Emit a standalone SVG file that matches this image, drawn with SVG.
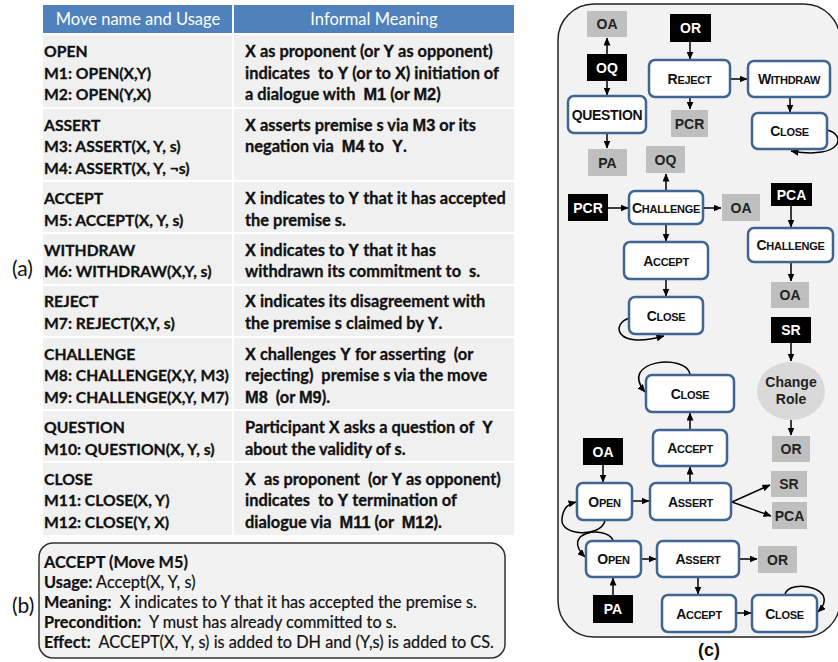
<svg xmlns="http://www.w3.org/2000/svg" width="838" height="662" viewBox="0 0 838 662">
<defs>
<marker id="ah" markerWidth="8" markerHeight="7" refX="7.5" refY="3.5" orient="auto" markerUnits="userSpaceOnUse"><path d="M0,0 L8,3.5 L0,7 z" fill="#000"/></marker>
<style>
.tt{font-family:Lato,"Liberation Sans",sans-serif;font-weight:700;font-size:15.7px;fill:#111;stroke:#111;stroke-width:0.3px}
.r{font-size:16.4px}
.k{font-family:"Liberation Sans",Arial,sans-serif;font-weight:700}
.hd{font-family:Lato,"Liberation Sans",sans-serif;font-size:16.5px;fill:#fff;text-anchor:middle}
.cell{fill:#f0f0f0}
.lab{font-family:Lato,"Liberation Sans",sans-serif;font-size:21px;fill:#111}
.bt{font-family:Lato,"Liberation Sans",sans-serif;font-size:16.3px;fill:#111;stroke:#111;stroke-width:0.2px}
.bb{font-weight:700}
.nd{fill:#fff;stroke:#3f6593;stroke-width:2.5}
.nt{font-family:"Liberation Sans",Arial,sans-serif;font-weight:700;font-size:11px;fill:#111;text-anchor:middle;letter-spacing:-0.3px}
.B{font-size:14px}
.gy{fill:#bfbfbf}
.bk{fill:#000}
.gt{font-family:"Liberation Sans",Arial,sans-serif;font-weight:700;font-size:14px;fill:#222;text-anchor:middle}
.wt{font-family:"Liberation Sans",Arial,sans-serif;font-weight:700;font-size:14px;fill:#fff;text-anchor:middle}
.cn{fill:none;stroke:#000;stroke-width:1.5;marker-end:url(#ah)}
</style>
</defs>
<rect width="838" height="662" fill="#fff"/>

<!-- Table (a) -->
<g id="table">
<rect x="43" y="5" width="189" height="28" fill="#4f81bd"/>
<rect x="234" y="5" width="280" height="28" fill="#4f81bd"/>
<text class="hd" x="138" y="25">Move name and Usage</text>
<text class="hd" x="374" y="25">Informal Meaning</text>

<rect class="cell" x="43" y="35" width="189" height="72"/><rect class="cell" x="234" y="35" width="280" height="72"/>
<rect class="cell" x="43" y="109" width="189" height="71"/><rect class="cell" x="234" y="109" width="280" height="71"/>
<rect class="cell" x="43" y="182" width="189" height="50"/><rect class="cell" x="234" y="182" width="280" height="50"/>
<rect class="cell" x="43" y="234" width="189" height="50"/><rect class="cell" x="234" y="234" width="280" height="50"/>
<rect class="cell" x="43" y="286" width="189" height="50"/><rect class="cell" x="234" y="286" width="280" height="50"/>
<rect class="cell" x="43" y="338" width="189" height="71"/><rect class="cell" x="234" y="338" width="280" height="71"/>
<rect class="cell" x="43" y="411" width="189" height="50"/><rect class="cell" x="234" y="411" width="280" height="50"/>
<rect class="cell" x="43" y="463" width="189" height="72"/><rect class="cell" x="234" y="463" width="280" height="72"/>

<text class="tt" x="44" y="57">OPEN</text>
<text class="tt" x="44" y="78.5">M1: OPEN(X,Y)</text>
<text class="tt" x="44" y="100">M2: OPEN(Y,X)</text>
<text class="tt r" x="245" y="57"><tspan class="k">X</tspan> as proponent (or <tspan class="k">Y</tspan> as opponent)</text>
<text class="tt r" x="245" y="78.5" xml:space="preserve">indicates  to <tspan class="k">Y</tspan> (or to <tspan class="k">X</tspan>) initiation of</text>
<text class="tt r" x="245" y="100" xml:space="preserve">a dialogue with  <tspan class="k">M1</tspan> (or <tspan class="k">M2</tspan>)</text>

<text class="tt" x="44" y="130.5">ASSERT</text>
<text class="tt" x="44" y="152">M3: ASSERT(X, Y, s)</text>
<text class="tt" x="44" y="173.5">M4: ASSERT(X, Y, ¬s)</text>
<text class="tt r" x="245" y="130.5"><tspan class="k">X</tspan> asserts premise s via <tspan class="k">M3</tspan> or its</text>
<text class="tt r" x="245" y="152" xml:space="preserve">negation via  <tspan class="k">M4</tspan> to  <tspan class="k">Y</tspan>.</text>

<text class="tt" x="44" y="204">ACCEPT</text>
<text class="tt" x="44" y="225.5">M5: ACCEPT(X, Y, s)</text>
<text class="tt r" x="245" y="204"><tspan class="k">X</tspan> indicates to <tspan class="k">Y</tspan> that it has accepted</text>
<text class="tt r" x="245" y="225.5">the premise s.</text>

<text class="tt" x="44" y="255.5">WITHDRAW</text>
<text class="tt" x="44" y="277">M6: WITHDRAW(X,Y, s)</text>
<text class="tt r" x="245" y="255.5"><tspan class="k">X</tspan> indicates to <tspan class="k">Y</tspan> that it has</text>
<text class="tt r" x="245" y="277" xml:space="preserve">withdrawn its commitment to  s.</text>

<text class="tt" x="44" y="307">REJECT</text>
<text class="tt" x="44" y="328.5">M7: REJECT(X,Y, s)</text>
<text class="tt r" x="245" y="307"><tspan class="k">X</tspan> indicates its disagreement with</text>
<text class="tt r" x="245" y="328.5">the premise s claimed by <tspan class="k">Y</tspan>.</text>

<text class="tt" x="44" y="359.5">CHALLENGE</text>
<text class="tt" x="44" y="381">M8: CHALLENGE(X,Y, M3)</text>
<text class="tt" x="44" y="402.5">M9: CHALLENGE(X,Y, M7)</text>
<text class="tt r" x="245" y="359.5" xml:space="preserve"><tspan class="k">X</tspan> challenges <tspan class="k">Y</tspan> for asserting  (or</text>
<text class="tt r" x="245" y="381" xml:space="preserve">rejecting)  premise s via the move</text>
<text class="tt r" x="245" y="402.5" xml:space="preserve"><tspan class="k">M8</tspan>  (or <tspan class="k">M9</tspan>).</text>

<text class="tt" x="44" y="432.5">QUESTION</text>
<text class="tt" x="44" y="454.5">M10: QUESTION(X, Y, s)</text>
<text class="tt r" x="245" y="432.5" xml:space="preserve">Participant <tspan class="k">X</tspan> asks a question of  <tspan class="k">Y</tspan></text>
<text class="tt r" x="245" y="454.5">about the validity of s.</text>

<text class="tt" x="44" y="484.5">CLOSE</text>
<text class="tt" x="44" y="506">M11: CLOSE(X, Y)</text>
<text class="tt" x="44" y="527.5">M12: CLOSE(Y, X)</text>
<text class="tt r" x="245" y="484.5" xml:space="preserve"><tspan class="k">X</tspan>  as proponent  (or <tspan class="k">Y</tspan> as opponent)</text>
<text class="tt r" x="245" y="506" xml:space="preserve">indicates  to <tspan class="k">Y</tspan> termination of</text>
<text class="tt r" x="245" y="527.5" xml:space="preserve">dialogue via  <tspan class="k">M11</tspan> (or  <tspan class="k">M12</tspan>).</text>
</g>
<text class="lab" x="12" y="276">(a)</text>

<!-- Box (b) -->
<g id="boxb">
<rect x="39" y="543" width="466" height="115" rx="14" fill="#f2f2f2" stroke="#333" stroke-width="1.5"/>
<text class="bt bb" x="44" y="568">ACCEPT (Move M5)</text>
<text class="bt" x="44" y="588"><tspan class="bb">Usage:</tspan> Accept(X, Y, s)</text>
<text class="bt" x="44" y="608" xml:space="preserve"><tspan class="bb">Meaning:</tspan>  X indicates to Y that it has accepted the premise s.</text>
<text class="bt" x="44" y="628" xml:space="preserve"><tspan class="bb">Precondition:</tspan>  Y must has already committed to s.</text>
<text class="bt" x="44" y="648" xml:space="preserve"><tspan class="bb">Effect:</tspan>  ACCEPT(X, Y, s) is added to DH and (Y,s) is added to CS.</text>
</g>
<text class="lab" x="12" y="613">(b)</text>

<!-- Panel (c) -->
<rect x="558" y="4" width="282" height="633" rx="36" fill="#f2f2f2" stroke="#222" stroke-width="1.5"/>
<text x="709" y="656" font-family="'Liberation Sans',Arial,sans-serif" font-size="18" font-weight="700" fill="#111" text-anchor="middle">(c)</text>

<g id="connectors">
<line class="cn" x1="607" y1="54" x2="607" y2="38"/>
<line class="cn" x1="607" y1="81" x2="607" y2="95"/>
<line class="cn" x1="607" y1="133" x2="607" y2="148"/>
<line class="cn" x1="690" y1="42" x2="690" y2="59"/>
<line class="cn" x1="731" y1="79" x2="747" y2="79"/>
<line class="cn" x1="690" y1="98" x2="690" y2="109"/>
<line class="cn" x1="790" y1="98" x2="790" y2="112"/>
<path class="cn" d="M827,130 C846,134 844,160 791,151"/>
<line class="cn" x1="666" y1="190" x2="666" y2="174"/>
<line class="cn" x1="608" y1="208" x2="628" y2="208"/>
<line class="cn" x1="704" y1="208" x2="721" y2="208"/>
<line class="cn" x1="666" y1="225" x2="666" y2="241"/>
<line class="cn" x1="666" y1="280" x2="666" y2="296"/>
<path class="cn" d="M630,318 C612,322 612,350 664,336"/>
<line class="cn" x1="791" y1="206" x2="791" y2="227"/>
<line class="cn" x1="791" y1="263" x2="791" y2="281"/>
<line class="cn" x1="791" y1="343" x2="791" y2="361"/>
<line class="cn" x1="791" y1="420" x2="791" y2="435"/>
<path class="cn" d="M690,374 C686,353 618,360 645,392"/>
<line class="cn" x1="690" y1="429" x2="690" y2="413"/>
<line class="cn" x1="690" y1="482" x2="690" y2="467"/>
<line class="cn" x1="603" y1="465" x2="603" y2="482"/>
<line class="cn" x1="633" y1="501" x2="649" y2="501"/>
<line class="cn" x1="732" y1="502" x2="770" y2="485"/>
<line class="cn" x1="732" y1="502" x2="771" y2="516"/>
<path class="cn" d="M605,521 C600,538 560,536 562,519 C563,508 568,504 576,502"/>
<path class="cn" d="M613,540 C605,525 560,532 585,557"/>
<line class="cn" x1="642" y1="559" x2="656" y2="559"/>
<line class="cn" x1="740" y1="559" x2="757" y2="559"/>
<line class="cn" x1="698" y1="578" x2="698" y2="594"/>
<line class="cn" x1="737" y1="613" x2="751" y2="613"/>
<line class="cn" x1="613" y1="595" x2="613" y2="578"/>
<path class="cn" d="M785,594 C790,578 842,588 818,612"/>
</g>

<g id="n_oa1"><rect class="gy" x="587" y="11" width="40" height="26"/><text class="gt" x="607" y="29">OA</text></g>
<g id="n_oq1"><rect class="bk" x="587" y="54" width="40" height="27"/><text class="wt" x="607" y="72.5">OQ</text></g>
<g id="n_question"><rect class="nd" x="568" y="96" width="78" height="37" rx="6"/><text class="nt B" x="607" y="119.5">QUESTION</text></g>
<g id="n_pa1"><rect class="gy" x="588" y="149" width="39" height="27"/><text class="gt" x="607.5" y="167.5">PA</text></g>
<g id="n_or1"><rect class="bk" x="670" y="14" width="41" height="28"/><text class="wt" x="690.5" y="33">OR</text></g>
<g id="n_reject"><rect class="nd" x="649" y="60" width="81" height="37" rx="6"/><text class="nt" x="689.5" y="83.5"><tspan class="B">R</tspan>EJECT</text></g>
<g id="n_withdraw"><rect class="nd" x="748" y="61" width="82" height="36" rx="6"/><text class="nt" x="789" y="84"><tspan class="B">W</tspan>ITHDRAW</text></g>
<g id="n_close1"><rect class="nd" x="752" y="113" width="75" height="36" rx="6"/><text class="nt" x="789.5" y="136"><tspan class="B">C</tspan>LOSE</text></g>
<g id="n_pcr1"><rect class="gy" x="671" y="110" width="37" height="27"/><text class="gt" x="689.5" y="128.5">PCR</text></g>
<g id="n_oq2"><rect class="gy" x="646" y="146" width="39" height="27"/><text class="gt" x="665.5" y="164.5">OQ</text></g>
<g id="n_pcr2"><rect class="bk" x="568" y="194" width="40" height="27"/><text class="wt" x="588" y="212.5">PCR</text></g>
<g id="n_challenge1"><rect class="nd" x="629" y="191" width="74" height="33" rx="6"/><text class="nt" x="666" y="212.5"><tspan class="B">C</tspan>HALLENGE</text></g>
<g id="n_oa2"><rect class="gy" x="722" y="194" width="38" height="27"/><text class="gt" x="741" y="212.5">OA</text></g>
<g id="n_accept1"><rect class="nd" x="624" y="242" width="84" height="37" rx="6"/><text class="nt" x="666" y="265.5"><tspan class="B">A</tspan>CCEPT</text></g>
<g id="n_close2"><rect class="nd" x="629" y="297" width="74" height="37" rx="6"/><text class="nt" x="666" y="320.5"><tspan class="B">C</tspan>LOSE</text></g>
<g id="n_pca1"><rect class="bk" x="771" y="183" width="41" height="23"/><text class="wt" x="791.5" y="199.5">PCA</text></g>
<g id="n_challenge2"><rect class="nd" x="748" y="228" width="85" height="34" rx="6"/><text class="nt" x="790.5" y="250"><tspan class="B">C</tspan>HALLENGE</text></g>
<g id="n_oa3"><rect class="gy" x="771" y="282" width="38" height="26"/><text class="gt" x="790" y="300">OA</text></g>
<g id="n_sr1"><rect class="bk" x="771" y="317" width="40" height="26"/><text class="wt" x="791" y="335">SR</text></g>
<g id="n_changerole"><ellipse cx="791" cy="391" rx="34" ry="29" fill="#d9d9d9"/><text class="gt" x="791" y="387" font-size="13">Change</text><text class="gt" x="791" y="404" font-size="13">Role</text></g>
<g id="n_or2"><rect class="gy" x="772" y="436" width="38" height="26"/><text class="gt" x="791" y="454">OR</text></g>
<g id="n_close3"><rect class="nd" x="646" y="375" width="88" height="37" rx="6"/><text class="nt" x="690" y="398.5"><tspan class="B">C</tspan>LOSE</text></g>
<g id="n_accept2"><rect class="nd" x="653" y="430" width="74" height="36" rx="6"/><text class="nt" x="690" y="453"><tspan class="B">A</tspan>CCEPT</text></g>
<g id="n_oa4"><rect class="bk" x="583" y="438" width="40" height="27"/><text class="wt" x="603" y="456.5">OA</text></g>
<g id="n_open1"><rect class="nd" x="577" y="483" width="55" height="37" rx="6"/><text class="nt" x="604.5" y="506.5"><tspan class="B">O</tspan>PEN</text></g>
<g id="n_assert1"><rect class="nd" x="650" y="483" width="81" height="37" rx="6"/><text class="nt" x="690.5" y="506.5"><tspan class="B">A</tspan>SSERT</text></g>
<g id="n_sr2"><rect class="gy" x="771" y="471" width="36" height="26"/><text class="gt" x="789" y="489">SR</text></g>
<g id="n_pca2"><rect class="gy" x="772" y="502" width="35" height="27"/><text class="gt" x="789.5" y="520.5">PCA</text></g>
<g id="n_open2"><rect class="nd" x="586" y="541" width="55" height="36" rx="6"/><text class="nt" x="613.5" y="564"><tspan class="B">O</tspan>PEN</text></g>
<g id="n_assert2"><rect class="nd" x="657" y="541" width="82" height="36" rx="6"/><text class="nt" x="698" y="564"><tspan class="B">A</tspan>SSERT</text></g>
<g id="n_or3"><rect class="gy" x="758" y="546" width="39" height="27"/><text class="gt" x="777.5" y="564.5">OR</text></g>
<g id="n_pa2"><rect class="bk" x="593" y="595" width="40" height="28"/><text class="wt" x="613" y="614">PA</text></g>
<g id="n_accept3"><rect class="nd" x="662" y="595" width="74" height="37" rx="6"/><text class="nt" x="699" y="618.5"><tspan class="B">A</tspan>CCEPT</text></g>
<g id="n_close4"><rect class="nd" x="752" y="595" width="65" height="37" rx="6"/><text class="nt" x="784.5" y="618.5"><tspan class="B">C</tspan>LOSE</text></g>
</svg>
